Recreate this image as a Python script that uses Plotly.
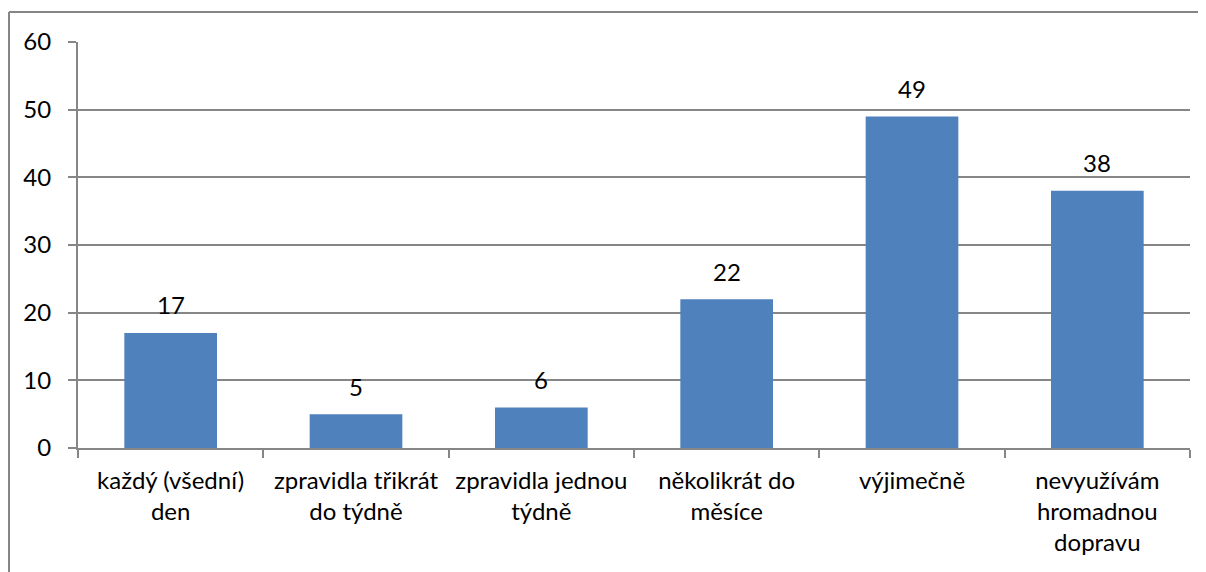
import plotly.graph_objects as go

# kategorie a hodnoty
kategorie = ['každý (všední)<br>den', 'zpravidla třikrát<br>do týdně', 'zpravidla jednou<br>týdně',
             'několikrát do<br>měsíce', 'výjimečně', 'nevyužívám<br>hromadnou<br>dopravu']
hodnoty = [17, 5, 6, 22, 49, 38]
y_ticks = [0, 10, 20, 30, 40, 50, 60]

FONT = 'Lato, Carlito, Calibri, sans-serif'
SEDA = '#868686'
VEL = 24

fig = go.Figure(go.Bar(
    x=kategorie, y=hodnoty,
    marker=dict(color='#4F81BD', line=dict(width=0)),
    width=0.5,
))

# popisky hodnot nad sloupci
for k, v in zip(kategorie, hodnoty):
    fig.add_annotation(x=k, y=v, text=str(v), showarrow=False,
                       yanchor='middle', yshift=28,
                       font=dict(family=FONT, size=VEL, color='#000000'))

# ramecek kolem grafu - jen horni a leva hrana jsou videt (stranka ma 8px okraj)
x_lev = (1 - 70) / 1112
y_hor = 1 + (34 - 4) / 406
fig.add_shape(type='line', xref='paper', yref='paper',
              x0=x_lev, x1=(1300 - 70) / 1112, y0=y_hor, y1=y_hor,
              line=dict(color=SEDA, width=2), layer='below')
fig.add_shape(type='line', xref='paper', yref='paper',
              x0=x_lev, x1=x_lev, y0=-(700 - 440) / 406, y1=y_hor,
              line=dict(color=SEDA, width=2), layer='below')

fig.update_layout(
    width=1198, height=564,
    margin=dict(l=70, r=16, t=34, b=124),
    paper_bgcolor='white', plot_bgcolor='white',
    font=dict(family=FONT, size=VEL, color='#000000'),
    showlegend=False,
    bargap=0.5,
    xaxis=dict(
        showline=True, linecolor=SEDA, linewidth=2,
        ticks='outside', tickson='boundaries', ticklen=8, tickcolor=SEDA, tickwidth=2,
        showgrid=False, tickfont=dict(family=FONT, size=VEL),
        ticklabelstandoff=10,
    ),
    yaxis=dict(
        range=[0, 60], tickvals=y_ticks,
        showline=True, linecolor=SEDA, linewidth=2,
        ticks='outside', ticklen=8, tickcolor=SEDA, tickwidth=2,
        showgrid=True, gridcolor=SEDA, gridwidth=2,
        zeroline=False, tickfont=dict(family=FONT, size=VEL),
        ticklabelstandoff=12,
    ),
)

fig.write_html("out.html", config={'displayModeBar': False})
